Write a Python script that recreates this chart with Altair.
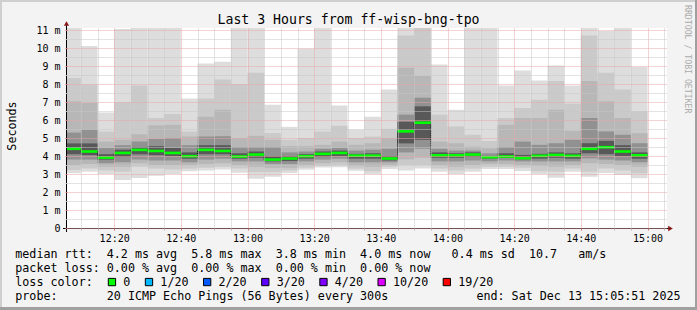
import altair as alt
import pandas as pd

# ---------------- data ----------------
# bar end times, minutes after 12:00 (12:10 ... 15:00), each bar spans 5 minutes
bar_end_min = list(range(10, 181, 5))

median_ms = [4.40, 4.25, 3.91, 4.17, 4.34, 4.28, 4.17, 3.99, 4.34, 4.28,
             3.97, 4.08, 3.80, 3.86, 3.99, 4.12, 4.17, 4.02, 4.02, 3.86,
             5.37, 5.85, 4.04, 4.04, 4.08, 3.93, 3.97, 3.88, 4.01, 4.06,
             4.01, 4.40, 4.49, 4.25, 4.04]

# smoke bands: outermost (min/max ping) to innermost
p1_lo = [3.04, 3.13, 3.00, 2.66, 2.78, 2.90, 3.00, 3.15, 3.20, 3.25,
         3.07, 2.74, 2.85, 3.05, 3.24, 3.36, 3.38, 3.18, 3.00, 3.28,
         3.20, 3.30, 3.13, 3.00, 3.13, 3.28, 3.28, 3.17, 3.00, 2.79,
         3.13, 2.85, 3.05, 2.94, 2.76]
p1_hi = [11.5, 10.11, 6.42, 11.05, 11.5, 11.5, 11.5, 7.19, 9.14, 9.24,
         11.5, 11.5, 6.85, 5.62, 9.96, 11.5, 6.80, 5.46, 6.18, 7.69,
         11.5, 11.5, 9.09, 6.57, 11.5, 11.5, 7.91, 8.75, 8.19, 9.03,
         7.91, 11.5, 10.95, 11.5, 8.94]
p2_lo = [3.22, 3.30, 3.20, 3.13, 3.40, 3.30, 3.25, 3.30, 3.35, 3.40,
         3.30, 3.10, 3.10, 3.20, 3.35, 3.45, 3.50, 3.30, 3.15, 3.40,
         3.50, 3.50, 3.30, 3.20, 3.30, 3.40, 3.40, 3.35, 3.15, 3.13,
         3.30, 3.13, 3.30, 3.20, 3.04]
p2_hi = [8.34, 7.97, 5.36, 6.98, 7.91, 6.11, 6.33, 5.36, 7.19, 8.25,
         8.00, 8.62, 5.27, 4.90, 5.00, 5.36, 5.68, 5.00, 5.08, 5.51,
         10.70, 11.20, 6.29, 5.64, 5.18, 4.84, 6.11, 6.67, 7.13, 8.16,
         6.90, 10.70, 8.62, 7.69, 6.48]
p3_lo = [3.50, 3.55, 3.40, 3.40, 3.60, 3.50, 3.50, 3.50, 3.55, 3.60,
         3.50, 3.40, 3.35, 3.35, 3.50, 3.60, 3.65, 3.45, 3.40, 3.50,
         3.80, 3.90, 3.50, 3.40, 3.50, 3.55, 3.55, 3.50, 3.45, 3.40,
         3.50, 3.60, 3.55, 3.50, 3.40]
p3_hi = [7.04, 6.95, 4.80, 4.90, 5.21, 5.70, 5.73, 5.08, 6.18, 6.57,
         5.00, 5.12, 4.90, 4.55, 4.55, 4.62, 4.80, 4.62, 4.71, 5.00,
         8.90, 8.44, 4.80, 4.71, 4.52, 4.43, 5.73, 6.11, 6.11, 6.57,
         5.40, 8.16, 7.04, 6.11, 5.27]
p5_lo = [3.80, 3.80, 3.60, 3.65, 3.80, 3.75, 3.75, 3.65, 3.80, 3.85,
         3.70, 3.70, 3.55, 3.55, 3.70, 3.80, 3.85, 3.65, 3.65, 3.65,
         4.20, 4.40, 3.70, 3.70, 3.75, 3.70, 3.75, 3.70, 3.70, 3.70,
         3.70, 3.87, 3.80, 3.75, 3.65]
p5_hi = [5.30, 5.46, 4.45, 4.60, 4.80, 4.95, 5.00, 4.60, 5.08, 5.10,
         4.50, 4.50, 4.50, 4.20, 4.25, 4.40, 4.45, 4.30, 4.35, 4.40,
         6.30, 7.23, 4.40, 4.30, 4.30, 4.15, 4.50, 4.80, 4.62, 4.71,
         4.90, 6.11, 5.36, 5.18, 4.71]
p8_lo = [4.10, 4.05, 3.80, 3.95, 4.10, 4.05, 4.00, 3.85, 4.10, 4.10,
         3.85, 3.90, 3.70, 3.72, 3.85, 3.95, 4.00, 3.85, 3.85, 3.75,
         4.70, 4.90, 3.90, 3.90, 3.95, 3.85, 3.90, 3.82, 3.85, 3.90,
         3.85, 4.15, 4.10, 4.00, 3.85]
p8_hi = [4.70, 4.70, 4.10, 4.35, 4.50, 4.55, 4.45, 4.20, 4.60, 4.60,
         4.15, 4.25, 4.00, 4.00, 4.10, 4.25, 4.30, 4.12, 4.15, 4.00,
         5.90, 6.76, 4.20, 4.15, 4.20, 4.00, 4.15, 4.06, 4.12, 4.20,
         4.15, 4.71, 4.84, 4.60, 4.20]

smoke_shades = ["#dddddd", "#cacaca", "#b7b7b7", "#919191", "#585858"]

title_text = "Last 3 Hours from ff-wisp-bng-tpo"
y_title = "Seconds"
legend_rows = [
    "median rtt:  4.2 ms avg  5.8 ms max  3.8 ms min  4.0 ms now   0.4 ms sd  10.7   am/s",
    "packet loss: 0.00 % avg  0.00 % max  0.00 % min  0.00 % now",
]
loss_title = "loss color:"
loss_labels = ["0", "1/20", "2/20", "3/20", "4/20", "10/20", "19/20"]
loss_colors = ["#00ff00", "#00b8ff", "#0059ff", "#5e00ff", "#7e00ff", "#dd00ff", "#ff0000"]
probe_text = "probe:       20 ICMP Echo Pings (56 Bytes) every 300s"
end_text = "end: Sat Dec 13 15:05:51 2025"
credit_text = "RRDTOOL / TOBI OETIKER"

# ---------------- tables ----------------
rows = []
bands = [(p1_lo, p1_hi), (p2_lo, p2_hi), (p3_lo, p3_hi), (p5_lo, p5_hi), (p8_lo, p8_hi)]
for k, (lo, hi) in enumerate(bands):
    for e, a, b in zip(bar_end_min, lo, hi):
        rows.append({"start": e - 5, "end": e, "lo": a, "hi": b,
                     "shade": smoke_shades[k], "layer": k})
smoke = pd.DataFrame(rows)

med = pd.DataFrame({"end": bar_end_min, "median": median_ms})
med["start"] = med["end"] - 5
med["prev"] = med["median"].shift(1)
conn = med.dropna().copy()

# ---------------- layout helpers ----------------
LEFT, TOP, W, H = 67, 28, 600, 200
def px(x):
    return x - LEFT
def py(y):
    return y - TOP

MONO = "DejaVu Sans Mono"
NB = "\u00a0"
X_DOMAIN = [5.85, 185.85]
xs = alt.Scale(domain=X_DOMAIN, nice=False, zero=False)
ys = alt.Scale(domain=[0, 200 / 18], nice=False, zero=False)

RED_GRID = "#eba6a6"
GRAY_GRID = "#c6c6c6"

x_axis = alt.Axis(
    values=list(range(10, 186, 5)), title=None, grid=True, domain=False,
    gridColor={"condition": {"test": "datum.value % 20 === 0", "value": RED_GRID}, "value": GRAY_GRID},
    gridDash=[1, 1], gridWidth=1, ticks=True, tickSize=2,
    tickColor={"condition": {"test": "datum.value % 20 === 0", "value": "#d07070"}, "value": "#bbbbbb"},
    labelExpr="datum.value % 20 === 0 ? (12 + floor(datum.value / 60)) + ':' + ((datum.value % 60) < 10 ? '0' : '') + (datum.value % 60) : ''",
    labelFont=MONO, labelFontSize=10, labelColor="#000000", labelPadding=3,
    labelFlush=False, labelOverlap=False, labelBound=False, zindex=1)

y_axis = alt.Axis(
    values=[i * 0.5 for i in range(23)], title=None, grid=True, domain=False,
    gridColor={"condition": {"test": "datum.value % 1 === 0", "value": RED_GRID}, "value": GRAY_GRID},
    gridDash=[1, 1], gridWidth=1, ticks=True, tickSize=2,
    tickColor={"condition": {"test": "datum.value % 1 === 0", "value": "#d07070"}, "value": "#bbbbbb"},
    labelExpr="datum.value % 1 === 0 ? (datum.value === 0 ? '0' : datum.value + ' m') : ''",
    labelFont=MONO, labelFontSize=10, labelColor="#000000", labelPadding=5,
    labelFlush=False, labelOverlap=False, labelBound=False, zindex=1)

smoke_chart = alt.Chart(smoke).mark_rect(clip=True, strokeWidth=0).encode(
    x=alt.X("start:Q", scale=xs, axis=x_axis),
    x2="end:Q",
    y=alt.Y("lo:Q", scale=ys, axis=y_axis),
    y2="hi:Q",
    fill=alt.Fill("shade:N", scale=None, legend=None),
    order=alt.Order("layer:Q"),
)

conn_chart = alt.Chart(conn).mark_rule(clip=True, color="#000000", strokeWidth=1, strokeDash=[1, 1]).encode(
    x=alt.X("start:Q", scale=xs, axis=x_axis),
    y=alt.Y("prev:Q", scale=ys, axis=y_axis),
    y2="median:Q",
)

median_chart = alt.Chart(med).mark_rule(clip=True, color="#00ff00", strokeWidth=2.6).encode(
    x=alt.X("start:Q", scale=xs, axis=x_axis),
    x2="end:Q",
    y=alt.Y("median:Q", scale=ys, axis=y_axis),
)

one = pd.DataFrame({"k": [0]})

def rect(x1, x2, y1, y2, color, stroke=None):
    kw = {"fill": color}
    if stroke:
        kw.update({"stroke": stroke, "strokeWidth": 1})
    else:
        kw.update({"strokeWidth": 0})
    return alt.Chart(one).mark_rect(**kw).encode(
        x=alt.value(px(x1)), x2=alt.value(px(x2)),
        y=alt.value(py(y1)), y2=alt.value(py(y2)))

def text(s, x, y, size=11.7, align="left", color="#000000", angle=0, baseline="alphabetic"):
    return alt.Chart(one).mark_text(
        font=MONO, fontSize=size, align=align, baseline=baseline,
        color=color, angle=angle).encode(
        x=alt.value(px(x)), y=alt.value(py(y)), text=alt.value(s.replace(" ", NB)))

# axis lines and arrows
x_line = alt.Chart(one).mark_rule(color="#000000", strokeWidth=1).encode(
    x=alt.value(px(63)), x2=alt.value(px(670)), y=alt.value(py(228.5)))
y_line = alt.Chart(one).mark_rule(color="#000000", strokeWidth=1).encode(
    x=alt.value(px(66.5)), y=alt.value(py(24)), y2=alt.value(py(232)))
x_arrow = alt.Chart(one).mark_point(shape="triangle-right", filled=True, color="#8b1a1a", size=28, opacity=1).encode(
    x=alt.value(px(670.5)), y=alt.value(py(228.5)))
y_arrow = alt.Chart(one).mark_point(shape="triangle-up", filled=True, color="#8b1a1a", size=28, opacity=1).encode(
    x=alt.value(px(66.5)), y=alt.value(py(23.5)))

layers = [smoke_chart, conn_chart, median_chart, x_line, y_line, x_arrow, y_arrow]

# frame
layers += [
    rect(0, 697, 0, 2, "#cfcfcf"),
    rect(0, 2, 0, 310, "#cfcfcf"),
    rect(695, 697, 0, 310, "#a0a0a0"),
    rect(0, 697, 307, 310, "#a0a0a0"),
]

# titles
layers.append(text(title_text, 348.5, 23.5, size=13.2, align="center"))
layers.append(text(y_title, 11.5, 126, size=11.7, align="center", angle=270, baseline="middle"))
layers.append(text(credit_text, 687, 5, size=8.2, align="left", color="#ababab", angle=90, baseline="middle"))

# legend rows
layers.append(text(legend_rows[0], 15.3, 257.7))
layers.append(text(legend_rows[1], 15.3, 271.7))
layers.append(text(loss_title, 15.3, 285.7))
sx = 108.3
for lbl, col in zip(loss_labels, loss_colors):
    layers.append(rect(sx, sx + 7.3, 278.4, 285.7, col, stroke="#000000"))
    lx = sx + 15
    layers.append(text(lbl, lx, 285.7))
    sx = lx + len(lbl) * 7.04 + 15
layers.append(text(probe_text, 15.3, 299.5))
layers.append(text(end_text, 680.5, 299.5, align="right"))

chart = alt.layer(*layers).properties(
    width=W, height=H, autosize="none",
    padding={"left": LEFT, "top": TOP, "right": 697 - LEFT - W, "bottom": 310 - TOP - H},
).configure(background="#f3f3f3").configure_view(fill="#ffffff", strokeWidth=0)

chart.save("out.html", embed_options={"renderer": "svg", "actions": False})
